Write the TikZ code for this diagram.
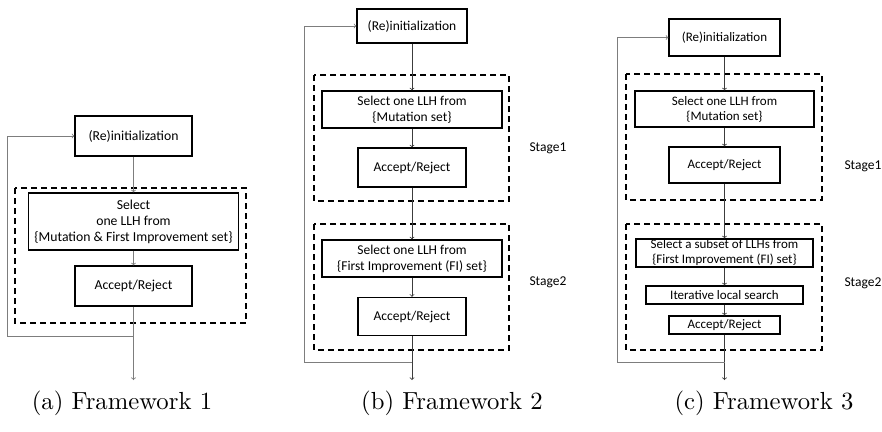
\documentclass[tikz,border=0pt]{standalone}
\usepackage{fontspec}
\usepackage{tikz}
\usetikzlibrary{shapes,arrows}
\newfontfamily\boxfont{Carlito}
\newfontfamily\capfont[Extension=.otf]{lmroman10-regular}
\definecolor{linegray}{RGB}{125,125,125}
\definecolor{linedark}{RGB}{60,60,60}
\tikzstyle{block} = [rectangle, draw, line width=1.4pt, align=center, inner sep=0pt]
\tikzstyle{stagebox} = [draw, dashed, dash pattern=on 6pt off 4pt, line width=1.3pt]
\tikzstyle{arrow} = [draw, ->, line width=0.8pt, linedark]
\tikzstyle{loopline} = [draw, ->, line width=0.8pt, linegray]
\tikzstyle{stagelabel} = [anchor=west, font=\boxfont\fontsize{13.5}{16}\selectfont]
\tikzstyle{figcap} = [font=\capfont\fontsize{24.7}{28}\selectfont]

\begin{document}
\begin{tikzpicture}[x=1pt, y=-1pt]
    \useasboundingbox (0,0) rectangle (882,431);

    % (a) Framework 1
    \begin{scope}[font=\boxfont\fontsize{13.7}{16}\selectfont]
    \node[block, minimum width=117pt, minimum height=40pt] (init1) at (133.5,136) {(Re)initialization};
    \node[block, below of=init1, node distance=85.5pt, minimum width=210pt, minimum height=57pt] (sel1) {Select\\one LLH from\\\{Mutation \& First Improvement set\}};
    \node[block, below of=sel1, node distance=64.5pt, minimum width=117pt, minimum height=40pt] (acc1) {Accept/Reject};
    \end{scope}
    \coordinate[below of=acc1, node distance=50pt] (split1);
    \coordinate[below of=acc1, node distance=94pt] (out1);
    \draw[stagebox] (15,188) rectangle (246,323);

    \path[arrow, linegray] (init1) -- (sel1);
    \path[arrow, linegray] (sel1) -- (acc1);
    \path[arrow, linegray] (acc1) -- (out1);
    \path[loopline] (split1) -- ++(-126.5,0) |- (init1);

    % (b) Framework 2
    \begin{scope}[font=\boxfont\fontsize{13.5}{16}\selectfont]
    \node[block, minimum width=110pt, minimum height=34pt] (init2) at (412,26) {(Re)initialization};
    \node[block, below of=init2, node distance=83.5pt, minimum width=180pt, minimum height=37pt] (sel2) {Select one LLH from\\\{Mutation set\}};
    \node[block, below of=sel2, node distance=58pt, minimum width=108pt, minimum height=39pt] (acc2) {Accept/Reject};
    \node[block, below of=acc2, node distance=91pt, minimum width=180pt, minimum height=37pt] (fi2) {Select one LLH from\\\{First Improvement (FI) set\}};
    \node[block, below of=fi2, node distance=58pt, minimum width=108pt, minimum height=38pt] (accfi2) {Accept/Reject};
    \end{scope}
    \coordinate[below of=accfi2, node distance=45.5pt] (split2);
    \coordinate[below of=accfi2, node distance=63.5pt] (out2);
    \draw[stagebox] (314,75) rectangle (509,201);
    \draw[stagebox] (314,224) rectangle (509,350);
    \node[stagelabel] (st21) at (526,148) {Stage1};
    \node[stagelabel] (st22) at (526,282) {Stage2};

    \path[arrow] (init2) -- (sel2);
    \path[arrow] (sel2) -- (acc2);
    \path[arrow] (acc2) -- (fi2);
    \path[arrow] (fi2) -- (accfi2);
    \path[arrow] (accfi2) -- (out2);
    \path[loopline] (split2) -- ++(-108,0) |- (init2);

    % (c) Framework 3
    \begin{scope}[font=\boxfont\fontsize{13}{15}\selectfont]
    \node[block, minimum width=111pt, minimum height=37pt] (init3) at (724.5,37.5) {(Re)initialization};
    \node[block, below of=init3, node distance=71.5pt, minimum width=179pt, minimum height=36pt] (sel3) {Select one LLH from\\\{Mutation set\}};
    \node[block, below of=sel3, node distance=56pt, minimum width=111pt, minimum height=36pt] (acc3) {Accept/Reject};
    \node[block, below of=acc3, node distance=88pt, minimum width=177pt, minimum height=28pt] (sub3) {Select a subset of LLHs from\\\{First Improvement (FI) set\}};
    \node[block, below of=sub3, node distance=42pt, minimum width=157pt, minimum height=18pt] (ils3) {Iterative local search};
    \node[block, below of=ils3, node distance=30pt, minimum width=111pt, minimum height=18pt] (accfi3) {Accept/Reject};
    \end{scope}
    \coordinate[below of=accfi3, node distance=37pt] (split3);
    \coordinate[below of=accfi3, node distance=55pt] (out3);
    \draw[stagebox] (626,74) rectangle (822,200);
    \draw[stagebox] (626,224) rectangle (822,350);
    \node[stagelabel] (st31) at (841,166) {Stage1};
    \node[stagelabel] (st32) at (841,283) {Stage2};

    \path[arrow] (init3) -- (sel3);
    \path[arrow] (sel3) -- (acc3);
    \path[arrow] (acc3) -- (sub3);
    \path[arrow] (sub3) -- (ils3);
    \path[arrow] (ils3) -- (accfi3);
    \path[arrow] (accfi3) -- (out3);
    \path[loopline] (split3) -- ++(-107.5,0) |- (init3);

    % captions
    \node[figcap] (cap1) at (122,403) {(a) Framework 1};
    \node[figcap] (cap2) at (452,403) {(b) Framework 2};
    \node[figcap] (cap3) at (764,403) {(c) Framework 3};
\end{tikzpicture}
\end{document}
